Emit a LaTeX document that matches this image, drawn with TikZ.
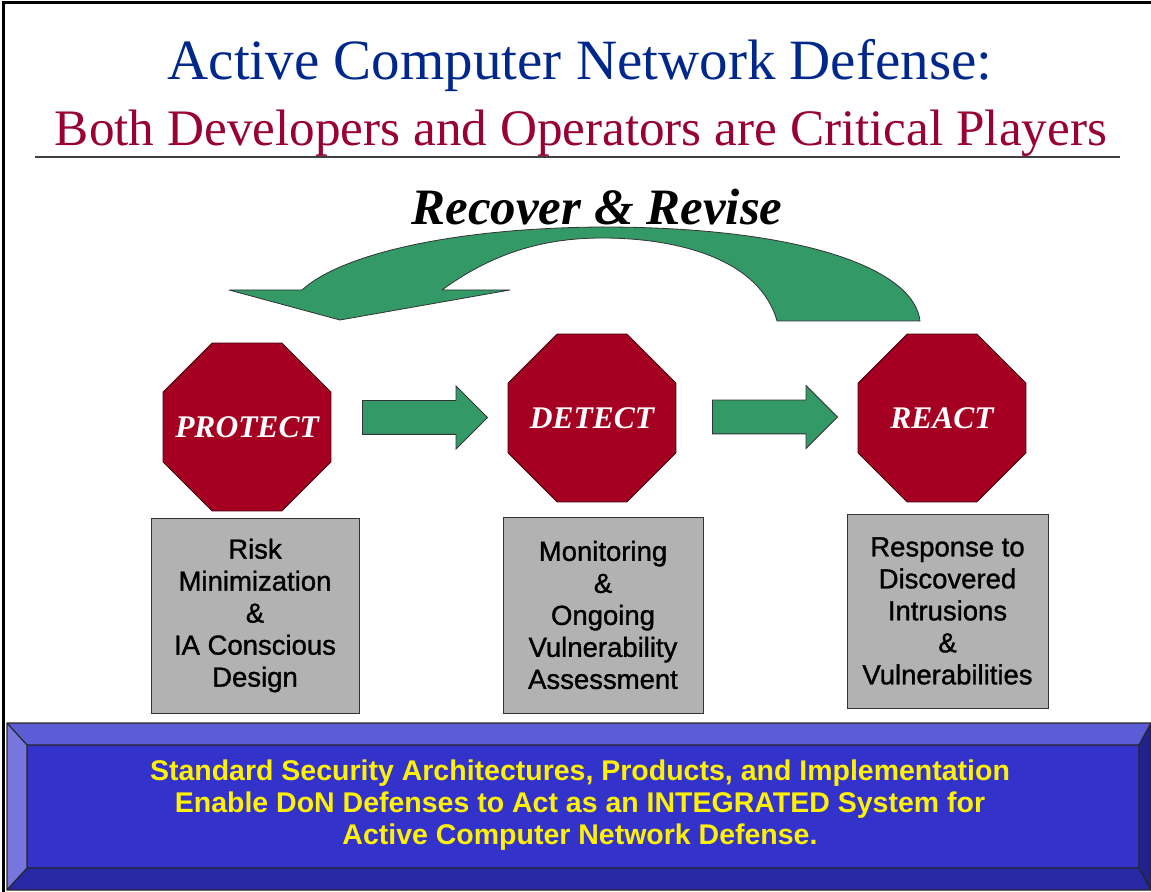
\documentclass[tikz,border=0pt]{standalone}
\usepackage{fontspec}
\setmainfont{Liberation Serif}
\setsansfont{Liberation Sans}
\newfontfamily\boxfont[FakeBold=1.2]{Liberation Sans}
\usetikzlibrary{shapes.geometric, shapes.arrows, positioning}
\definecolor{navytitle}{RGB}{0,40,140}
\definecolor{winered}{RGB}{153,0,51}
\definecolor{stopred}{RGB}{165,0,33}
\definecolor{arrowgreen}{RGB}{51,153,102}
\definecolor{boxgray}{RGB}{178,178,178}
\definecolor{panelblue}{RGB}{51,51,204}
\definecolor{bevellight}{RGB}{92,92,214}
\definecolor{bevelside}{RGB}{118,118,222}
\definecolor{beveldark}{RGB}{40,40,165}
\definecolor{bevelshade}{RGB}{34,34,140}

\begin{document}
\begin{tikzpicture}[
    x=0.5pt, y=-0.5pt,
    stopsign/.style={regular polygon, regular polygon sides=8, draw=black!60!stopred, fill=stopred,
                     minimum size=90.9pt, inner sep=0pt},
    stoptext/.style={text=white, inner sep=0pt, font=\fontsize{15.75}{18}\selectfont\bfseries\itshape},
    infobox/.style={rectangle, draw=black!80, fill=boxgray, align=center, inner sep=0pt,
                    font=\boxfont\fontsize{13.75}{16}\selectfont},
    blockarrow/.style={single arrow, draw=black!80, fill=arrowgreen, minimum height=62.5pt,
                       inner xsep=0pt, inner ysep=8.25pt, single arrow head extend=7.25pt,
                       single arrow head indent=0pt},
    heading/.style={anchor=base, inner sep=0pt}
]
\useasboundingbox (0,0) rectangle (1151,892);
\draw [line width=1.5pt] (3,892) -- (3,3) -- (1151,3);

\node (title)    [heading, text=navytitle, font=\fontsize{28.5}{34}\selectfont] at (580,80) {Active Computer Network Defense:};
\node (subtitle) [heading, text=winered, font=\fontsize{25.6}{30}\selectfont] at (581,146) {Both Developers and Operators are Critical Players};
\draw [black!75, line width=1pt] (35,157) -- (1120,157);
\node (recover)  [heading, font=\fontsize{25.5}{30}\selectfont\bfseries\itshape] at (597,225) {Recover \& Revise};

\draw [black!80, fill=arrowgreen, line join=round]
    (229,290) -- (340,320) -- (510,290) -- (442,290)
    .. controls (490,255) and (540,238) .. (602,238)
    .. controls (680,238) and (760,260) .. (777,321) -- (920,321)
    .. controls (914,268) and (800,227) .. (602,227)
    .. controls (450,228) and (340,255) .. (302,290) -- cycle;

\node (protect) [stopsign, label={[stoptext]center:PROTECT}] at (247,427) {};
\node (detect)  [stopsign, label={[stoptext]center:DETECT}] at (592,418) {};
\node (react)   [stopsign, label={[stoptext]center:REACT}] at (942,418) {};

\node (protecttodetect) [blockarrow] at (416.5,417.5) {};
\node (detecttoreact)   [blockarrow] at (766.5,417) {};

\node (protectbox) [infobox, minimum width=104pt, minimum height=97.5pt] at (255,615.5)
    {Risk\\Minimization\\\&\\IA Conscious\\Design};
\node (detectbox)  [infobox, minimum width=100pt, minimum height=98pt] at (603,615)
    {Monitoring\\\&\\Ongoing\\Vulnerability\\Assessment};
\node (reactbox)   [infobox, minimum width=100.5pt, minimum height=97pt] at (947.5,611)
    {Response to\\Discovered\\Intrusions\\\&\\Vulnerabilities};

\fill [bevellight] (7,723) -- (1151,723) -- (1139,745) -- (27,745) -- cycle;
\fill [bevelside]  (7,723) -- (27,745) -- (27,868) -- (7,890) -- cycle;
\fill [beveldark]  (7,890) -- (27,868) -- (1139,868) -- (1151,890) -- cycle;
\fill [bevelshade] (1151,723) -- (1151,890) -- (1139,868) -- (1139,745) -- cycle;
\fill [panelblue]  (27,745) rectangle (1139,868);
\draw [black!85, line width=0.6pt] (7,723) rectangle (1151,890) (27,745) rectangle (1139,868)
    (7,723) -- (27,745) (7,890) -- (27,868) (1151,723) -- (1139,745) (1151,890) -- (1139,868);

\node (footer) [text=yellow, align=center, font=\sffamily\bfseries\fontsize{14.25}{16}\selectfont] at (580,805)
    {Standard Security Architectures, Products, and Implementation\\
     Enable DoN Defenses to Act as an INTEGRATED System for\\
     Active Computer Network Defense.};
\end{tikzpicture}
\end{document}
